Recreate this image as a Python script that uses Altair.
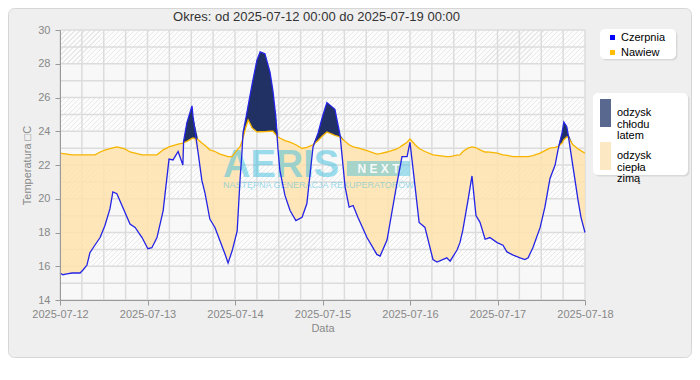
import altair as alt
import pandas as pd

# ---------------- data ----------------
hours = [0, 0.8, 1.9, 3.3, 5.5, 6.3, 7.4, 8.2, 9.6, 11.0,
         12.3, 13.7, 14.5, 15.6, 17.0, 17.8, 19.2, 20.6, 22.5, 24.1,
         25.2, 26.6, 28.3, 29.9, 31.0, 32.4, 33.7, 33.9, 34.8, 36.2,
         36.5, 37.9, 38.9, 39.8, 41.1, 42.5, 43.9, 45.3, 46.1, 47.2,
         48.6, 49.4, 49.9, 50.2, 51.0, 51.6, 52.7, 54.0, 54.9, 56.2,
         57.6, 58.4, 59.2, 59.8, 60.3, 61.7, 63.1, 64.7, 66.4, 67.7,
         69.4, 70.8, 71.9, 73.2, 75.4, 76.8, 78.2, 79.3, 80.4, 81.7,
         84.2, 86.9, 87.8, 89.7, 92.4, 93.3, 93.8, 95.2, 96.0, 97.4,
         98.5, 100.1, 102.3, 103.4, 106.1, 107.0, 108.9, 109.7, 110.5, 111.9,
         113.0, 114.1, 115.2, 116.6, 117.9, 119.9, 121.5, 122.6, 124.3, 126.2,
         127.5, 128.4, 129.7, 131.7, 133.0, 134.4, 135.8, 136.6, 137.7, 138.2,
         139.0, 139.3, 140.7, 142.1, 142.9, 144.0]

czerpnia = [15.6, 15.5, 15.55, 15.6, 15.6, 15.78, 16.07, 16.8, 17.26, 17.7,
            18.4, 19.4, 20.4, 20.3, 19.6, 19.2, 18.5, 18.3, 17.7, 17.04,
            17.1, 17.7, 19.3, 22.35, 22.3, 22.8, 22.0, 23.4, 24.5, 25.5,
            24.85, 22.7, 21.1, 20.3, 18.8, 18.3, 17.5, 16.7, 16.2, 16.9,
            18.1, 21.2, 22.7, 23.9, 24.8, 25.5, 26.8, 28.2, 28.7, 28.6,
            27.5, 26.4, 24.85, 22.9, 21.7, 20.2, 19.3, 18.7, 18.9, 19.7,
            23.07, 23.9, 24.8, 25.7, 25.3, 23.8, 20.7, 19.5, 19.6, 18.9,
            17.7, 16.7, 16.6, 17.55, 20.9, 21.9, 22.5, 22.5, 23.35, 20.7,
            18.6, 18.3, 16.4, 16.25, 16.5, 16.3, 16.96, 17.4, 18.15, 19.9,
            21.35, 19.0, 18.6, 17.6, 17.7, 17.4, 17.25, 16.85, 16.66, 16.5,
            16.4, 16.5, 17.1, 18.3, 19.5, 21.2, 22.0, 22.9, 23.9, 24.55,
            24.27, 23.9, 21.9, 19.9, 18.9, 18.0]

nawiew = [22.7, 22.68, 22.65, 22.6, 22.6, 22.6, 22.6, 22.6, 22.6, 22.77,
          22.88, 22.97, 23.02, 23.07, 23.0, 22.95, 22.77, 22.7, 22.6, 22.6,
          22.6, 22.6, 22.9, 23.07, 23.15, 23.24, 23.3, 23.32, 23.4, 23.58,
          23.6, 23.5, 23.3, 23.15, 22.9, 22.8, 22.65, 22.55, 22.5, 22.5,
          22.9, 23.09, 23.4, 23.6, 24.27, 24.67, 24.2, 23.96, 23.97, 23.98,
          24.0, 24.0, 23.8, 23.66, 23.6, 23.45, 23.35, 23.2, 22.98, 23.05,
          23.2, 23.45, 23.7, 23.96, 23.75, 23.66, 23.4, 23.2, 23.07, 23.02,
          22.85, 22.65, 22.68, 22.77, 22.95, 23.07, 23.15, 23.35, 23.54, 23.2,
          22.98, 22.8, 22.6, 22.57, 22.5, 22.5, 22.58, 22.6, 22.8, 23.0,
          23.07, 23.02, 22.9, 22.77, 22.76, 22.7, 22.6, 22.57, 22.5, 22.5,
          22.5, 22.5, 22.55, 22.7, 22.85, 23.0, 23.05, 23.1, 23.3, 23.5,
          23.66, 23.66, 23.2, 22.95, 22.85, 22.7]

day_ticks = [12, 13, 14, 15, 16, 17, 18]
temp_ticks = [14, 16, 18, 20, 22, 24, 26, 28, 30]
grid_temps = list(range(14, 31))
grid_hours = list(range(0, 145, 6))
band_plain = [14, 18, 22, 26]
band_hatched = [16, 20, 24, 28]
series_names = ["Czerpnia", "Nawiew"]
series_colors = ["#0000ff", "#ffbf00"]
fill_names = ["odzysk chłodu latem", "odzysk ciepła zimą"]
fill_swatches = ["#59688f", "#fde8c4"]

TITLE = "Okres: od 2025-07-12 00:00 do 2025-07-19 00:00"
YTITLE = "Temperatura \u25a1C"
FONT = "Liberation Sans"

start = pd.Timestamp("2025-07-12 00:00")


def ts(h):
    return (start + pd.Timedelta(hours=h)).strftime("%Y-%m-%dT%H:%M:%S")


df = pd.DataFrame({"t": [ts(h) for h in hours], "czerpnia": czerpnia, "nawiew": nawiew})
df["lo"] = df[["czerpnia", "nawiew"]].min(axis=1)
df["hi"] = df[["czerpnia", "nawiew"]].max(axis=1)

t_start, t_end = ts(0), ts(144)
plain_df = pd.DataFrame({"lo": band_plain, "hi": [b + 2 for b in band_plain], "t0": t_start, "t1": t_end})
hatch_df = pd.DataFrame({"lo": band_hatched, "hi": [b + 2 for b in band_hatched], "t0": t_start, "t1": t_end})
vgrid_df = pd.DataFrame({"t": [ts(h) for h in grid_hours]})
hgrid_df = pd.DataFrame({"v": grid_temps})
one = pd.DataFrame({"k": [0]})

W, H = 525, 270

# ---------------- scales / axes ----------------
xscale = alt.Scale(domain=[alt.DateTime(year=2025, month=7, date=12),
                           alt.DateTime(year=2025, month=7, date=18)], nice=False)
yscale = alt.Scale(domain=[14, 30], nice=False, zero=False)
xaxis = alt.Axis(values=[alt.DateTime(year=2025, month=7, date=d) for d in day_ticks],
                 format="%Y-%m-%d", labelFlush=False, labelPadding=3, titlePadding=3,
                 tickSize=5, grid=False, zindex=1)
yaxis = alt.Axis(values=temp_ticks, labelPadding=5, titlePadding=5, tickSize=5,
                 grid=False, zindex=1)


def X(field):
    return alt.X(field, scale=xscale, axis=xaxis, title="Data")


def Y(field):
    return alt.Y(field, scale=yscale, axis=yaxis, title=YTITLE)


# hatch pattern as a striped gradient
n_stripes = 112
stops = []
for k in range(n_stripes):
    a = k / n_stripes
    b = (k + 0.22) / n_stripes
    c = (k + 1) / n_stripes
    stops += [{"offset": a, "color": "#e9e9e9"}, {"offset": b, "color": "#e9e9e9"},
              {"offset": b, "color": "#fcfcfc"}, {"offset": c, "color": "#fcfcfc"}]
hatch = {"gradient": "linear", "x1": 0, "y1": 0, "x2": 1.0599, "y2": 0.0681, "stops": stops}

# ---------------- layers ----------------
frame = alt.Chart(one).mark_rect(fill="#efefef", stroke="#d6d6d6", strokeWidth=1, cornerRadius=6).encode(
    x=alt.value(-51.5), x2=alt.value(631.5), y=alt.value(-21.5), y2=alt.value(327.5))

plain = alt.Chart(plain_df).mark_rect(fill="#f8f8f8").encode(
    x=X("t0:T"), x2="t1:T", y=Y("lo:Q"), y2="hi:Q")
hatched = alt.Chart(hatch_df).mark_rect().encode(
    x=X("t0:T"), x2="t1:T", y=Y("lo:Q"), y2="hi:Q", fill=alt.value(hatch))

vgrid = alt.Chart(vgrid_df).mark_rule(color="#dcdcdc", strokeWidth=1.5).encode(x=X("t:T"))
hgrid = alt.Chart(hgrid_df).mark_rule(color="#dcdcdc", strokeWidth=1.5).encode(y=Y("v:Q"))

heat = alt.Chart(df).mark_area(color="#ffe3ad", opacity=0.85).encode(
    x=X("t:T"), y=Y("nawiew:Q"), y2="lo:Q")
cool = alt.Chart(df).mark_area(color="#1b2a5e", opacity=0.97).encode(
    x=X("t:T"), y=Y("hi:Q"), y2="nawiew:Q")

wm_color = "#3ebfe0"
wm_big = alt.Chart(one).mark_text(fontSize=38, fontWeight="bold", align="left", baseline="alphabetic",
                                  color=wm_color, opacity=0.5).encode(
    x=alt.value(163), y=alt.value(147), text=alt.value("AERIS"))
wm_badge = alt.Chart(one).mark_rect(color=wm_color, opacity=0.45).encode(
    x=alt.value(287), x2=alt.value(350), y=alt.value(131), y2=alt.value(146))
wm_next = alt.Chart(one).mark_text(fontSize=12, fontWeight="bold", align="center", baseline="middle",
                                   color="white", opacity=0.9).encode(
    x=alt.value(318.5), y=alt.value(139), text=alt.value("N E X T"))
wm_sub = alt.Chart(one).mark_text(fontSize=9, align="left", baseline="middle",
                                  color=wm_color, opacity=0.5).encode(
    x=alt.value(163), y=alt.value(155), text=alt.value("NASTĘPNA GENERACJA REKUPERATORÓW"))

line_n = alt.Chart(df).mark_line(color="#f7b500", strokeWidth=1.3).encode(x=X("t:T"), y=Y("nawiew:Q"))
line_c = alt.Chart(df).mark_line(color="#2424e6", strokeWidth=1.3).encode(x=X("t:T"), y=Y("czerpnia:Q"))

# ---------------- legends ----------------
legend_layers = []
for (x0, x1, y0, y1) in [(540, 616, -1, 29), (533, 628, 63, 145)]:
    legend_layers.append(alt.Chart(one).mark_rect(fill="#d9d9d9", cornerRadius=5).encode(
        x=alt.value(x0 + 1.5), x2=alt.value(x1 + 1.5), y=alt.value(y0 + 1.5), y2=alt.value(y1 + 1.5)))
    legend_layers.append(alt.Chart(one).mark_rect(fill="white", cornerRadius=5).encode(
        x=alt.value(x0), x2=alt.value(x1), y=alt.value(y0), y2=alt.value(y1)))

for i, (name, col) in enumerate(zip(series_names, series_colors)):
    yy = 7.5 + 15 * i
    legend_layers.append(alt.Chart(one).mark_square(size=25, color=col, opacity=1).encode(
        x=alt.value(552.5), y=alt.value(yy)))
    legend_layers.append(alt.Chart(one).mark_text(fontSize=11, align="left", baseline="middle",
                                                  color="black").encode(
        x=alt.value(561), y=alt.value(yy), text=alt.value(name)))

for i, (name, col) in enumerate(zip(fill_names, fill_swatches)):
    y0 = 69 + 43 * i
    legend_layers.append(alt.Chart(one).mark_rect(fill=col).encode(
        x=alt.value(540), x2=alt.value(551), y=alt.value(y0), y2=alt.value(y0 + 28)))
    legend_layers.append(alt.Chart(one).mark_text(fontSize=11, align="left", baseline="middle",
                                                  color="black", lineBreak=" ", lineHeight=11.5).encode(
        x=alt.value(557), y=alt.value(y0 + 14), text=alt.value(name)))

chart = alt.layer(
    frame, plain, hatched, vgrid, hgrid, heat, cool,
    wm_big, wm_badge, wm_next, wm_sub,
    line_n, line_c, *legend_layers
).properties(
    width=W, height=H,
    autosize=alt.AutoSizeParams(type="none"),
    padding={"left": 52, "top": 22, "right": 107, "bottom": 58},
    background="white",
    title=alt.Title(TITLE, frame="group", anchor="middle", offset=-15.5, dx=-6,
                    fontSize=13, font=FONT, fontWeight="normal", color="#333333"),
).configure(font=FONT).configure_view(strokeWidth=0).configure_axis(
    labelColor="#888888", labelFontSize=11, labelFont=FONT,
    titleColor="#888888", titleFontSize=11, titleFont=FONT, titleFontWeight="normal",
    tickColor="#999999", domainColor="#999999",
)

chart.save("out.html", embed_options={"renderer": "svg", "actions": False})
